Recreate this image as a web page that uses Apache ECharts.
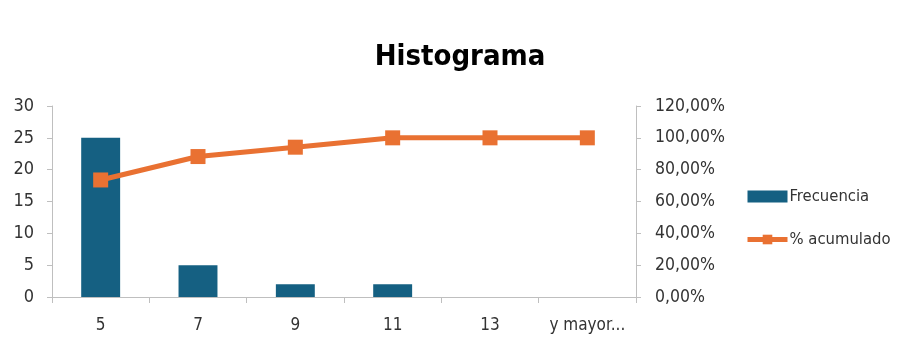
<!DOCTYPE html>
<html>
<head>
<meta charset="utf-8">
<script src="https://cdn.jsdelivr.net/npm/echarts@6/dist/echarts.min.js"></script>
<style>
  html, body { margin: 0; padding: 0; background: #fff; }
  #chart { width: 905px; height: 343px; }
</style>
</head>
<body>
<div id="chart"></div>
<script>
// Class bins and their frequencies
const categories = ['5', '7', '9', '11', '13', 'y mayor...'];
const frecuencia = [25, 5, 2, 2, 0, 0];
// Cumulative percentage per bin
const acumulado = [73.53, 88.24, 94.12, 100, 100, 100];
const leftTicks = [0, 5, 10, 15, 20, 25, 30];
const rightTicks = [0, 20, 40, 60, 80, 100, 120];

const FONT = '"DejaVu Sans Condensed", "Liberation Sans Narrow", "Liberation Sans", sans-serif';
const AXIS_GREY = '#bfbfbf';
const TEXT = '#333333';
const BLUE = '#156082';
const ORANGE = '#E97132';

const chart = echarts.init(document.getElementById('chart'), null, { renderer: 'canvas' });
chart.setOption({
  animation: false,
  textStyle: { fontFamily: FONT },
  title: {
    text: 'Histograma',
    left: 455, top: 38, textAlign: 'center',
    textStyle: { fontFamily: FONT, fontSize: 29, fontWeight: 'bold', color: '#000' }
  },
  grid: { left: 52, right: 269, top: 106, bottom: 46 },
  legend: {
    orient: 'vertical',
    left: 745, top: 188,
    padding: 0,
    itemWidth: 40, itemHeight: 12, itemGap: 26,
    textStyle: { fontFamily: FONT, fontSize: 16.5, color: TEXT, padding: [0, 0, 0, -3] },
    data: [
      { name: 'Frecuencia', icon: 'rect', itemStyle: { color: BLUE } },
      { name: '% acumulado', itemStyle: { color: ORANGE }, lineStyle: { color: ORANGE, width: 5 } }
    ]
  },
  xAxis: {
    type: 'category',
    data: categories,
    boundaryGap: true,
    axisLine: { lineStyle: { color: AXIS_GREY, width: 1 } },
    axisTick: { show: true, alignWithLabel: false, interval: 0, length: 6, lineStyle: { color: AXIS_GREY } },
    axisLabel: { color: TEXT, fontSize: 17, margin: 20, interval: 0, fontFamily: FONT }
  },
  yAxis: [
    {
      type: 'value', min: 0, max: 30, interval: 5,
      axisLine: { show: true, lineStyle: { color: AXIS_GREY } },
      axisTick: { show: true, length: 5, lineStyle: { color: AXIS_GREY } },
      splitLine: { show: false },
      axisLabel: { color: TEXT, fontSize: 18, margin: 18, fontFamily: FONT,
        formatter: v => leftTicks.includes(v) ? String(v) : '' }
    },
    {
      type: 'value', min: 0, max: 120, interval: 20,
      position: 'right',
      axisLine: { show: true, lineStyle: { color: AXIS_GREY } },
      axisTick: { show: true, length: 5, lineStyle: { color: AXIS_GREY } },
      splitLine: { show: false },
      axisLabel: { color: TEXT, fontSize: 17.5, margin: 19, fontFamily: FONT,
        formatter: v => rightTicks.includes(v) ? v.toFixed(2).replace('.', ',') + '%' : '' }
    }
  ],
  series: [
    {
      name: 'Frecuencia',
      type: 'bar',
      data: frecuencia,
      yAxisIndex: 0,
      barWidth: '40%',
      itemStyle: { color: BLUE }
    },
    {
      name: '% acumulado',
      type: 'line',
      data: acumulado,
      yAxisIndex: 1,
      symbol: 'rect',
      symbolSize: 15,
      lineStyle: { color: ORANGE, width: 5 },
      itemStyle: { color: ORANGE }
    }
  ]
});
</script>
</body>
</html>
